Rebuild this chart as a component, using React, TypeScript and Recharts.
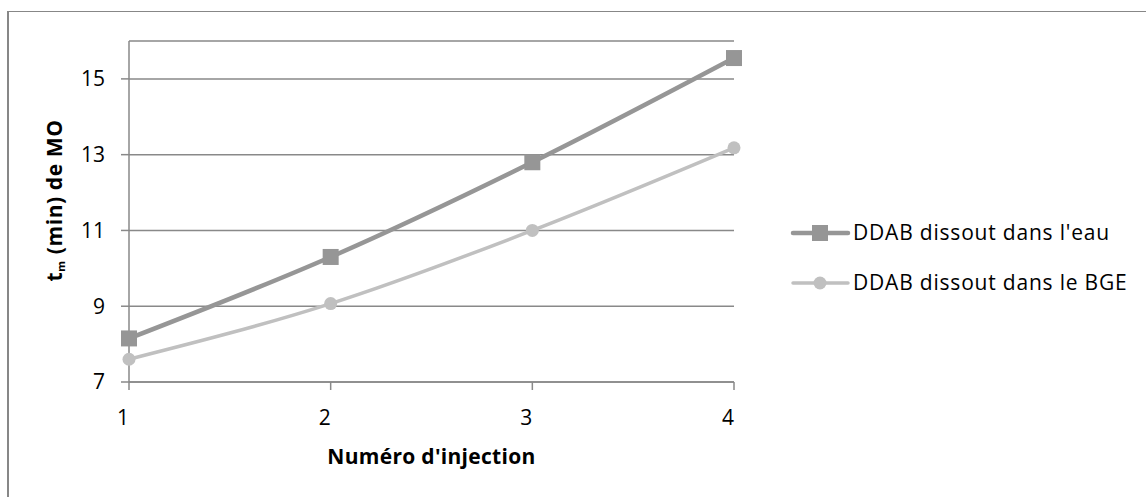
import React from 'react';
import { LineChart, Line, XAxis, YAxis, CartesianGrid, Legend } from 'recharts';

const injections = [1, 2, 3, 4];
const eauValues = [8.15, 10.3, 12.8, 15.55];
const bgeValues = [7.6, 9.07, 11.0, 13.18];
const yTicks = [7, 9, 11, 13, 15];
const xTicks = [1, 2, 3, 4];
const seriesNames = ["DDAB dissout dans l'eau", 'DDAB dissout dans le BGE'];

const data = injections.map((x, i) => ({ x, eau: eauValues[i], bge: bgeValues[i] }));

const FONT = '"Open Sans", sans-serif';
const DARK = '#969696';
const LIGHT = '#c0c0c0';
const AXIS = '#898989';

const SquareDot = (props: any) => {
  const { cx, cy } = props;
  if (cx == null || cy == null) return null;
  return <rect x={cx - 8} y={cy - 8} width={16} height={16} fill={DARK} />;
};
const CircleDot = (props: any) => {
  const { cx, cy } = props;
  if (cx == null || cy == null) return null;
  return <circle cx={cx} cy={cy} r={6.5} fill={LIGHT} />;
};

const XTick = (props: any) => {
  const { x, y, payload } = props;
  return (
    <text x={x - 6} y={y + 28} dy="0.35em" textAnchor="middle" fontSize={21} fontFamily={FONT} fill="#000">
      {payload.value}
    </text>
  );
};
const YTick = (props: any) => {
  const { x, y, payload } = props;
  return (
    <text x={x} y={y} dy="0.35em" textAnchor="end" fontSize={21} fontFamily={FONT} fill="#000">
      {payload.value}
    </text>
  );
};

const YLabel = (props: any) => {
  const vb = props.viewBox;
  const cx = vb.x + 6;
  const cy = vb.y + vb.height / 2 - 11;
  return (
    <text x={cx} y={cy} transform={`rotate(-90, ${cx}, ${cy})`} textAnchor="middle" dy="0.35em"
      fontFamily={FONT} fontWeight="bold" fontSize={21} letterSpacing={0.6} fill="#000">
      t<tspan fontSize={11} dy={3}>m</tspan><tspan dy={-3}> (min) de MO</tspan>
    </text>
  );
};

const XLabel = (props: any) => {
  const vb = props.viewBox;
  const cx = vb.x + vb.width / 2;
  return (
    <text x={cx} y={vb.y + 75} textAnchor="middle" dy="0.35em" fontFamily={FONT} fontWeight="bold" fontSize={21} letterSpacing={0.3} fill="#000">
      Numéro d'injection
    </text>
  );
};

const LegendContent = () => (
  <svg width={340} height={90} style={{ overflow: 'visible' }}>
    <g transform="translate(0,13)">
      <line x1={3} y1={0} x2={58} y2={0} stroke={DARK} strokeWidth={4.5} strokeLinecap="round" />
      <rect x={22} y={-8} width={16} height={16} fill={DARK} />
      <text x={63} y={0} dy="0.35em" fontFamily={FONT} fontSize={21} letterSpacing={0.8} fill="#000">{seriesNames[0]}</text>
    </g>
    <g transform="translate(0,63)">
      <line x1={3} y1={0} x2={58} y2={0} stroke={LIGHT} strokeWidth={3.5} strokeLinecap="round" />
      <circle cx={30} cy={0} r={6.5} fill={LIGHT} />
      <text x={63} y={0} dy="0.35em" fontFamily={FONT} fontSize={21} letterSpacing={0.8} fill="#000">{seriesNames[1]}</text>
    </g>
  </svg>
);

export default function App() {
  return (
    <div style={{ position: 'fixed', left: 0, top: 0, width: 1146, height: 497, background: '#fff', overflow: 'hidden' }}>
      <div style={{ position: 'absolute', left: 7, top: 11, right: -10, bottom: -10, borderLeft: '2px solid #878787', borderTop: '1.5px solid #878787' }} />
      <div style={{ position: 'absolute', left: 0, top: 0 }}>
        <LineChart width={1146} height={497} data={data} margin={{ top: 41, right: 412, left: 49, bottom: 35 }}>
          <CartesianGrid vertical={false} stroke={AXIS} strokeWidth={1.5} />
          <XAxis dataKey="x" type="number" domain={[1, 4]} ticks={xTicks} interval={0}
            stroke={AXIS} strokeWidth={1.5} tickSize={8} tickMargin={0} tick={<XTick />} height={80}
            label={<XLabel />} />
          <YAxis type="number" domain={[7, 16]} ticks={yTicks} interval={0} width={80}
            stroke={AXIS} strokeWidth={1.5} tickSize={8} tickMargin={16} tick={<YTick />}
            label={<YLabel />} />
          <Legend layout="vertical" verticalAlign="middle" align="center" content={<LegendContent />}
            wrapperStyle={{ position: 'absolute', left: 790, top: 220, width: 340 }} />
          <Line type="monotone" dataKey="eau" name={seriesNames[0]} stroke={DARK} strokeWidth={4.5}
            dot={<SquareDot />} activeDot={false} isAnimationActive={false} />
          <Line type="monotone" dataKey="bge" name={seriesNames[1]} stroke={LIGHT} strokeWidth={3.5}
            dot={<CircleDot />} activeDot={false} isAnimationActive={false} />
        </LineChart>
      </div>
    </div>
  );
}
